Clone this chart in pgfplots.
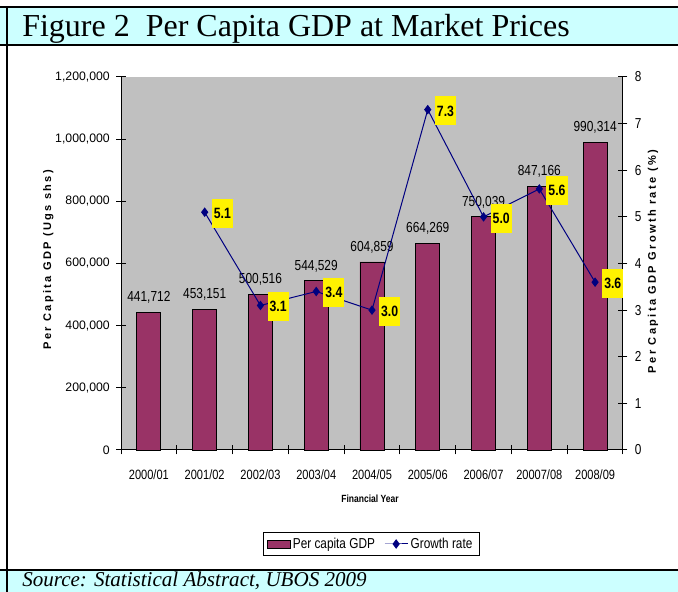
\documentclass[border=0pt]{standalone}
\usepackage{fontspec}
\setmainfont[FakeStretch=0.82]{Liberation Sans}
\newfontfamily\serif{Liberation Serif}
\newfontfamily\wide{Liberation Sans}
\newfontfamily\spaced[LetterSpace=21]{Liberation Sans}
\usepackage{pgfplots}
\pgfplotsset{compat=1.18}
\pgfplotsset{/pgf/number format/assume math mode=true}
\definecolor{barc}{RGB}{153,51,102}
\definecolor{navyc}{RGB}{0,0,128}
\definecolor{plotgray}{RGB}{192,192,192}
\definecolor{headc}{RGB}{204,255,255}
\begin{document}
\begin{tikzpicture}[x=0.75pt,y=0.75pt]
\useasboundingbox (0,0) rectangle (678,592);
\fill[headc] (0,547) rectangle (678,584.5);
\fill[headc] (0,0) rectangle (678,22);
\draw[line width=1.5pt] (0,584.5) -- (678,584.5);
\draw[line width=1.5pt] (0,547) -- (678,547);
\draw[line width=1.5pt] (0,22) -- (678,22);
\draw[line width=1.5pt] (7,0) -- (7,584.5);
\node[anchor=base west, inner sep=0pt, font=\serif\fontsize{24}{28}\selectfont] at (22,555.3) {Figure 2~~Per Capita GDP at Market Prices};
\node[anchor=base west, inner sep=0pt, font=\serif\itshape\fontsize{15.8}{18}\selectfont] at (22,5) {Source: Statistical Abstract, UBOS 2009};

\begin{axis}[
  at={(90.75pt,106.5pt)}, anchor=south west,
  scale only axis, width=376.5pt, height=279.75pt,
  xmin=-0.5, xmax=8.5, ymin=0, ymax=1200000,
  axis background/.style={fill=plotgray},
  axis x line*=bottom, axis y line*=left,
  axis line style={line width=0.75pt, black, -},
  xtick={0,...,8},
  xticklabels={2000/01,2001/02,2002/03,2003/04,2004/05,2005/06,2006/07,20007/08,2008/09},
  minor xtick={-0.5,0.5,...,8.5},
  major x tick style={draw=none},
  minor x tick style={line width=0.75pt, black},
  minor tick length=6.75pt,
  major tick length=6.75pt,
  tick align=center,
  ytick={0,200000,...,1200000},
  scaled y ticks=false,
  ytick style={line width=0.75pt, black},
  yticklabel style={font=\wide\fontsize{9.2}{11}\selectfont, /pgf/number format/fixed, /pgf/number format/1000 sep={,}, xshift=-1.5pt},
  xticklabel style={font=\fontsize{10.1}{12}\selectfont, yshift=-8pt},
  every axis x label/.style={at={(axis description cs:0.496,-0.131)}, anchor=center, font=\bfseries\fontsize{7.8}{9}\selectfont},
  xlabel={Financial Year},
  every axis y label/.style={at={(axis description cs:-0.145,0.51)}, anchor=center, rotate=90, font=\spaced\bfseries\fontsize{8.3}{10}\selectfont},
  ylabel={Per Capita GDP (Ugs shs)},
  clip=false,
]
\addplot[ybar, bar width=18pt, fill=barc, draw=black, line width=0.6pt,
  nodes near coords={\pgfmathprintnumber[fixed,precision=0,1000 sep={,}]{\pgfplotspointmeta}},
  every node near coord/.append style={font=\fontsize{10.9}{12}\selectfont, yshift=3pt, text=black}]
 coordinates {(0,441712) (1,453151) (2,500516) (3,544529) (4,604859) (5,664269) (6,750039) (7,847166) (8,990314)};
\end{axis}

\begin{axis}[
  at={(90.75pt,106.5pt)}, anchor=south west,
  scale only axis, width=376.5pt, height=279.75pt,
  xmin=-0.5, xmax=8.5, ymin=0, ymax=8,
  axis x line=none, axis y line*=right,
  axis line style={line width=0.75pt, black, -},
  ytick={0,...,8},
  tick align=center, major tick length=6.75pt,
  ytick style={line width=0.75pt, black},
  yticklabel style={font=\fontsize{10.8}{12}\selectfont, xshift=2pt},
  every axis y label/.style={at={(axis description cs:1.06,0.505)}, anchor=center, rotate=90, font=\spaced\bfseries\fontsize{8.3}{10}\selectfont},
  ylabel={Per Capita GDP Growth rate (\%)},
  clip=false,
  legend columns=2,
  legend style={at={(axis description cs:0.498,-0.252)}, anchor=center, draw=black, font=\fontsize{10.8}{12}\selectfont, /tikz/every even column/.append style={column sep=5pt}},
]
\addlegendimage{area legend, fill=barc, draw=black}
\addlegendentry{Per capita GDP}
\addplot[color=navyc, line width=0.75pt, mark=diamond*, mark size=3pt, mark options={solid, fill=navyc},
  nodes near coords={\pgfmathprintnumber[fixed,fixed zerofill,precision=1]{\pgfplotspointmeta}},
  every node near coord/.append style={anchor=west, fill=yellow, text=black, font=\bfseries\fontsize{11.2}{13}\selectfont, minimum height=21.75pt, inner xsep=1.5pt, inner ysep=0pt, xshift=5pt, yshift=-1pt}]
 coordinates {(1,5.1) (2,3.1) (3,3.4) (4,3.0) (5,7.3) (6,5.0) (7,5.6) (8,3.6)};
\addlegendentry{Growth rate}
\end{axis}
\end{tikzpicture}
\end{document}
